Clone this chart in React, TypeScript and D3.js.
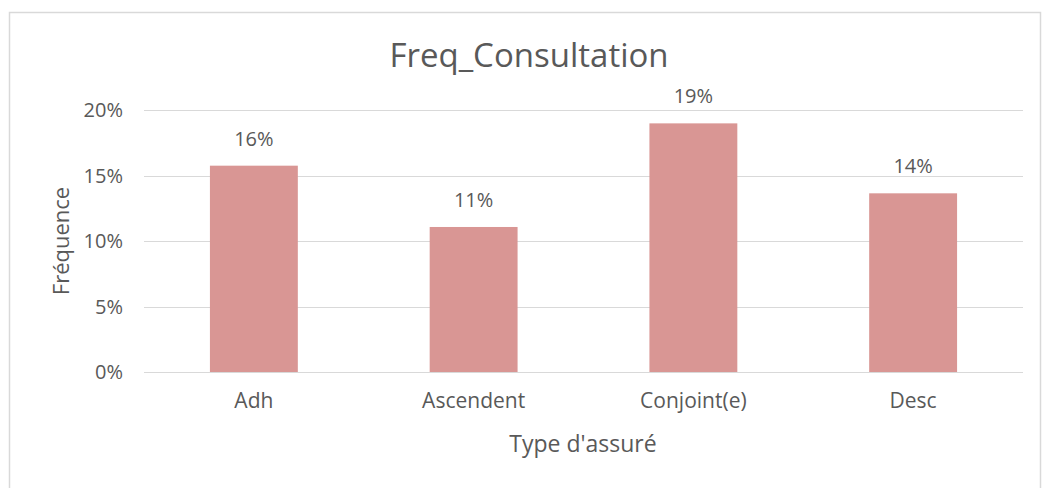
import React from "react";
import * as d3 from "d3";

const categories = ["Adh", "Ascendent", "Conjoint(e)", "Desc"];
const values = [0.1575, 0.1107, 0.1898, 0.1364];
const yTicks = [0, 0.05, 0.1, 0.15, 0.2];
const title = "Freq_Consultation";
const xTitle = "Type d'assuré";
const yTitle = "Fréquence";

const W = 1051;
const H = 488;
const FONT = "'Open Sans', 'Noto Sans', sans-serif";
const TEXT = "#595959";
const GRID = "#d9d9d9";
const BAR = "#d99694";

export default function App() {
  const left = 144;
  const right = 1023;
  const top = 110;
  const bottom = 372;
  const x = d3.scaleBand<string>().domain(categories).range([left, right]).paddingInner(0.6).paddingOuter(0.3);
  const y = d3.scaleLinear().domain([0, 0.2]).range([bottom, top]);
  const fmt = d3.format(".0%");
  return (
    <svg width={W} height={H} style={{ position: "absolute", left: 0, top: 0, background: "#fff" }}>
      <rect x={9.5} y={12.5} width={1031} height={500} fill="#fff" stroke={GRID} strokeWidth={1.5} />
      <text x={529} y={67} textAnchor="middle" fontFamily={FONT} fontSize={33} fill={TEXT}>{title}</text>
      {yTicks.map((t) => (
        <g key={t}>
          <line x1={left} x2={right} y1={Math.round(y(t)) + 0.5} y2={Math.round(y(t)) + 0.5} stroke={GRID} strokeWidth={1} />
          <text x={123} y={y(t)} dy="0.35em" textAnchor="end" fontFamily={FONT} fontSize={20} fill={TEXT}>{fmt(t)}</text>
        </g>
      ))}
      {categories.map((c, i) => (
        <g key={c}>
          <rect x={x(c)} y={y(values[i])} width={x.bandwidth()} height={bottom - y(values[i])} fill={BAR} />
          <text x={(x(c) ?? 0) + x.bandwidth() / 2} y={y(values[i]) - 20} textAnchor="middle" fontFamily={FONT} fontSize={20} fill={TEXT}>{fmt(values[i])}</text>
          <text x={(x(c) ?? 0) + x.bandwidth() / 2} y={408} textAnchor="middle" fontFamily={FONT} fontSize={21} fill={TEXT}>{c}</text>
        </g>
      ))}
      <text x={583} y={452} textAnchor="middle" fontFamily={FONT} fontSize={23} fill={TEXT}>{xTitle}</text>
      <text transform={`translate(69,${(top + bottom) / 2}) rotate(-90)`} textAnchor="middle" fontFamily={FONT} fontSize={22} fill={TEXT}>{yTitle}</text>
    </svg>
  );
}
